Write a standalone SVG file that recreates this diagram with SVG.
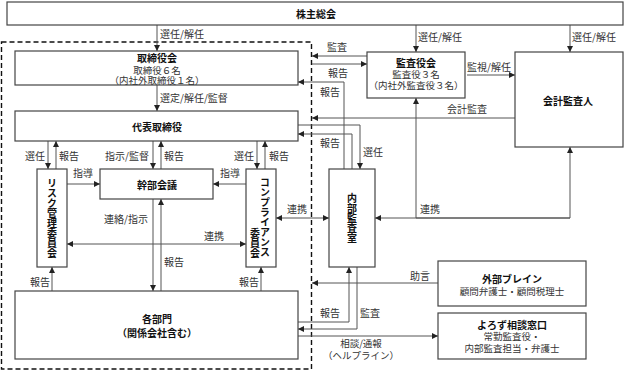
<svg xmlns="http://www.w3.org/2000/svg" width="625" height="372" viewBox="0 0 625 372">
<defs>
<marker id="ah" markerUnits="userSpaceOnUse" markerWidth="6" markerHeight="6" refX="6" refY="3" orient="auto-start-reverse">
<path d="M0,0 L6,3 L0,6 z" fill="#222"/>
</marker>
<style>
.box{fill:#fff;stroke:#444;stroke-width:1.2}
.ln{fill:none;stroke:#555;stroke-width:1;marker-end:url(#ah)}
.dbl{marker-start:url(#ah)}
.plain{fill:none;stroke:#555;stroke-width:1}
.t{font-family:"Noto Sans CJK JP","Noto Sans CJK SC",sans-serif;font-size:10px;font-weight:bold;fill:#111;text-anchor:middle}
.s{font-family:"Noto Sans CJK JP","Noto Sans CJK SC",sans-serif;font-size:9.5px;fill:#333;text-anchor:middle}
.l{font-family:"Noto Sans CJK JP","Noto Sans CJK SC",sans-serif;font-size:10px;fill:#333}
.v{writing-mode:vertical-rl}
</style>
</defs>
<rect width="625" height="372" fill="#fff"/>
<rect x="1.5" y="42" width="310" height="327" fill="none" stroke="#111" stroke-width="1.4" stroke-dasharray="5,3"/>

<g id="connectors">
<line class="ln" x1="157" y1="25" x2="157" y2="51"/>
<line class="ln" x1="157" y1="85" x2="157" y2="111"/>
<line class="ln" x1="48" y1="141" x2="48" y2="169"/>
<line class="ln" x1="56" y1="169" x2="56" y2="141"/>
<line class="ln" x1="153" y1="141" x2="153" y2="169"/>
<line class="ln" x1="161" y1="169" x2="161" y2="141"/>
<line class="ln" x1="257" y1="141" x2="257" y2="169"/>
<line class="ln" x1="265" y1="169" x2="265" y2="141"/>
<line class="ln" x1="67" y1="184" x2="100" y2="184"/>
<line class="ln" x1="246" y1="184" x2="213" y2="184"/>
<line class="ln" x1="153" y1="199" x2="153" y2="291"/>
<line class="ln" x1="161" y1="291" x2="161" y2="199"/>
<line class="ln dbl" x1="67" y1="244" x2="246" y2="244"/>
<line class="ln" x1="52" y1="291" x2="52" y2="267"/>
<line class="ln" x1="261" y1="291" x2="261" y2="267"/>
<line class="ln" x1="416" y1="25" x2="416" y2="52"/>
<line class="ln" x1="570" y1="25" x2="570" y2="52"/>
<line class="ln" x1="467" y1="75" x2="515" y2="75"/>
<line class="ln" x1="515" y1="118" x2="312" y2="118"/>
<line class="ln" x1="367" y1="56" x2="312" y2="56"/>
<line class="ln" x1="312" y1="64" x2="367" y2="64"/>
<path class="ln" d="M344,169 V82 H298"/>
<path class="ln" d="M298,125 H360 V169"/>
<path class="ln" d="M352,169 V134 H298"/>
<line class="ln dbl" x1="276" y1="218" x2="329" y2="218"/>
<line class="ln" x1="570" y1="218" x2="375" y2="218"/>
<path class="plain" d="M416,218 H570"/>
<line class="ln" x1="416" y1="218" x2="416" y2="98"/>
<line class="ln" x1="570" y1="218" x2="570" y2="147"/>
<line class="ln" x1="438" y1="283" x2="312" y2="283"/>
<path class="ln" d="M298,322 H349 V267"/>
<path class="ln" d="M357,267 V329 H298"/>
<line class="ln" x1="298" y1="336" x2="438" y2="336"/>
</g>

<g id="labels">
<text class="l" x="160" y="38">選任/解任</text>
<text class="l" x="160" y="102">選定/解任/監督</text>
<text class="l" x="25" y="160">選任</text>
<text class="l" x="59" y="160">報告</text>
<text class="l" x="105" y="160">指示/監督</text>
<text class="l" x="164" y="160">報告</text>
<text class="l" x="234" y="160">選任</text>
<text class="l" x="269" y="160">報告</text>
<text class="l" x="73" y="177">指導</text>
<text class="l" x="220" y="177">指導</text>
<text class="l" x="104" y="223">連絡/指示</text>
<text class="l" x="204" y="240">連携</text>
<text class="l" x="164" y="266">報告</text>
<text class="l" x="30" y="286">報告</text>
<text class="l" x="239" y="286">報告</text>
<text class="l" x="287" y="213">連携</text>
<text class="l" x="327" y="51">監査</text>
<text class="l" x="328" y="77">報告</text>
<text class="l" x="320" y="96">報告</text>
<text class="l" x="320" y="147">報告</text>
<text class="l" x="363" y="156">選任</text>
<text class="l" x="418" y="41">選任/解任</text>
<text class="l" x="572" y="41">選任/解任</text>
<text class="l" x="467" y="71">監視/解任</text>
<text class="l" x="447" y="113">会計監査</text>
<text class="l" x="420" y="213">連携</text>
<text class="l" x="410" y="280">助言</text>
<text class="l" x="320" y="317">報告</text>
<text class="l" x="360" y="317">監査</text>
<text class="s" x="361" y="347">相談/通報</text>
<text class="s" x="361" y="359">（ヘルプライン）</text>
</g>

<g id="shareholders">
<rect class="box" x="7" y="2" width="616" height="23"/>
<text class="t" x="316" y="18">株主総会</text>
</g>
<g id="board">
<rect class="box" x="15" y="51" width="283" height="34"/>
<text class="t" x="157" y="62">取締役会</text>
<text class="s" x="157" y="73.5">取締役６名</text>
<text class="s" x="157" y="83.5">（内社外取締役１名）</text>
</g>
<g id="president">
<rect class="box" x="15" y="111" width="283" height="30"/>
<text class="t" x="157" y="131">代表取締役</text>
</g>
<g id="risk">
<rect class="box" x="37" y="169" width="30" height="98"/>
<text class="t v" x="52" y="218">リスク管理委員会</text>
</g>
<g id="exec">
<rect class="box" x="100" y="169" width="113" height="30"/>
<text class="t" x="157" y="189">幹部会議</text>
</g>
<g id="compliance">
<rect class="box" x="246" y="169" width="30" height="98"/>
<text class="t v" x="265" y="177" style="text-anchor:start">コンプライアンス</text>
<text class="t v" x="255" y="258" style="text-anchor:end">委員会</text>
</g>
<g id="departments">
<rect class="box" x="15" y="291" width="283" height="68"/>
<text class="t" x="157" y="323">各部門</text>
<text class="t" x="157" y="337">（関係会社含む）</text>
</g>
<g id="auditboard">
<rect class="box" x="367" y="52" width="98" height="46"/>
<text class="t" x="416" y="66.5">監査役会</text>
<text class="s" x="416" y="78">監査役３名</text>
<text class="s" x="416" y="89">（内社外監査役３名）</text>
</g>
<g id="accountant">
<rect class="box" x="515" y="52" width="108" height="95"/>
<text class="t" x="568" y="105">会計監査人</text>
</g>
<g id="internalaudit">
<rect class="box" x="329" y="169" width="46" height="98"/>
<text class="t v" x="352" y="218">内部監査室</text>
</g>
<g id="external">
<rect class="box" x="438" y="261" width="148" height="45"/>
<text class="t" x="512" y="283">外部ブレイン</text>
<text class="s" x="512" y="295">顧問弁護士・顧問税理士</text>
</g>
<g id="consult">
<rect class="box" x="438" y="313" width="148" height="46"/>
<text class="t" x="512" y="329">よろず相談窓口</text>
<text class="s" x="512" y="340">常勤監査役・</text>
<text class="s" x="512" y="352">内部監査担当・弁護士</text>
</g>
</svg>
